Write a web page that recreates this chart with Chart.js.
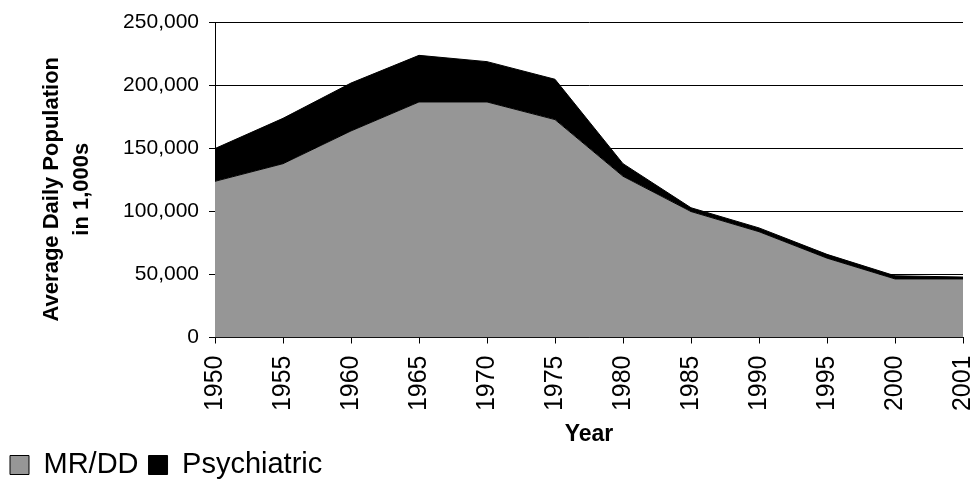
<!doctype html>
<html lang="en">
<head>
<meta charset="utf-8">
<title>Average Daily Population</title>
<script src="https://cdn.jsdelivr.net/npm/chart.js@4/dist/chart.umd.min.js"></script>
<style>
	body { margin: 0; background: #fff; }
</style>
</head>
<body>
<canvas id="myChart" width="972" height="483"></canvas>
<script type="text/javascript">
	// data
	var years = ['1950', '1955', '1960', '1965', '1970', '1975', '1980', '1985', '1990', '1995', '2000', '2001'];
	var mrdd = [124000, 138000, 164000, 187000, 187000, 173000, 128000, 100000, 84000, 63000, 46500, 46500];
	var psychiatric = [26000, 36000, 38000, 37000, 32000, 32000, 10000, 3000, 3000, 3000, 2500, 1500];
	var yTicks = [0, 50000, 100000, 150000, 200000, 250000];

	var fontName = '"Liberation Sans", Arial, sans-serif';
	// trailing spaces push the rotated title a little down, like the original
	var pad = '\u00a0\u00a0\u00a0';

	var ctx = document.getElementById('myChart').getContext('2d');
	var chart = new Chart(ctx, {
		type: 'line',
		data: {
			labels: years,
			datasets: [{
				label: 'MR/DD',
				data: mrdd,
				backgroundColor: '#969696',
				borderColor: '#000',
				borderWidth: 1,
				fill: 'origin',
				pointRadius: 0,
				tension: 0
			}, {
				label: 'Psychiatric',
				data: psychiatric,
				backgroundColor: '#000',
				borderColor: '#000',
				borderWidth: 1,
				fill: '-1',
				pointRadius: 0,
				tension: 0
			}]
		},
		options: {
			responsive: false,
			animation: false,
			layout: {
				padding: { top: 19, right: 9, left: 0, bottom: -6.5 }
			},
			plugins: {
				legend: {
					position: 'bottom',
					align: 'start',
					labels: {
						color: '#000',
						boxWidth: 19,
						boxHeight: 19,
						padding: 10,
						font: { family: fontName, size: 29 }
					}
				},
				tooltip: { enabled: false }
			},
			scales: {
				x: {
					offset: false,
					grid: {
						drawOnChartArea: false,
						drawTicks: true,
						tickLength: 6,
						color: '#000'
					},
					border: { color: '#000', width: 1 },
					ticks: {
						minRotation: 90,
						maxRotation: 90,
						padding: 12,
						color: '#000',
						font: { family: fontName, size: 25 }
					},
					title: {
						display: true,
						text: 'Year',
						color: '#000',
						padding: { top: 0, bottom: 0 },
						font: { family: fontName, size: 23, weight: 'bold', lineHeight: 0.5 }
					},
					afterFit: function(scale) {
						scale.height = 103;
						scale.paddingLeft = 0;
						scale.paddingRight = 0;
					}
				},
				y: {
					stacked: true,
					min: 0,
					max: 250000,
					grid: {
						color: '#000',
						tickLength: 6
					},
					border: { color: '#000', width: 1 },
					afterBuildTicks: function(scale) {
						scale.ticks = yTicks.map(function(v) { return { value: v }; });
					},
					ticks: {
						padding: 10,
						color: '#000',
						font: { family: fontName, size: 21 },
						callback: function(v) { return Number(v).toLocaleString('en-US'); }
					},
					title: {
						display: true,
						text: ['Average Daily Population' + pad, 'in 1,000s' + pad],
						color: '#000',
						padding: { top: 37, bottom: 0 },
						font: { family: fontName, size: 22, weight: 'bold', lineHeight: 1.36 }
					},
					afterFit: function(scale) {
						scale.width = 215;
					}
				}
			}
		}
	});
</script>
</body>
</html>
